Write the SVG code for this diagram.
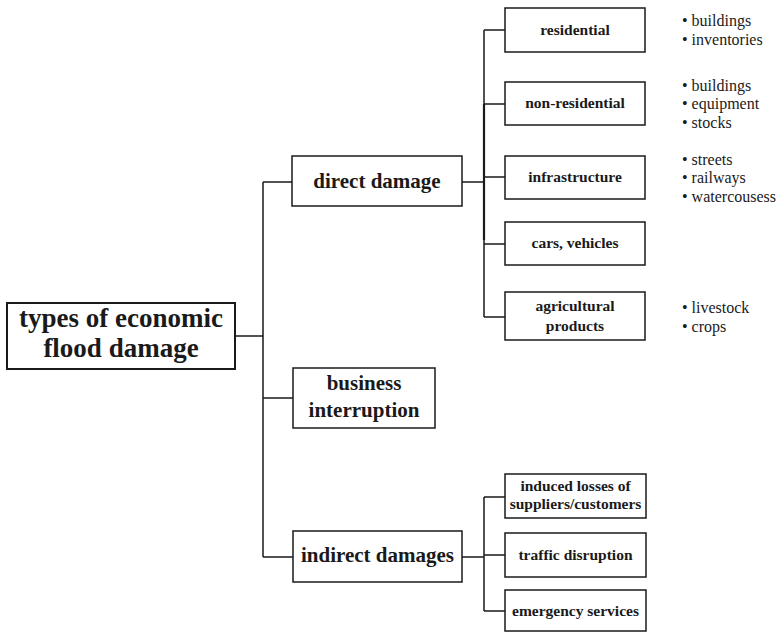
<svg xmlns="http://www.w3.org/2000/svg" width="778" height="632" viewBox="0 0 778 632">
  <style>
    .box { fill: #fff; stroke: #1a1a1a; stroke-width: 1.5; }
    .wire { fill: none; stroke: #1a1a1a; stroke-width: 1.5; }
    text { font-family: "Liberation Serif", "DejaVu Serif", serif; fill: #1a1a1a; text-anchor: middle; }
    .t0 { font-size: 27px; font-weight: bold; }
    .t1 { font-size: 21px; font-weight: bold; }
    .t2 { font-size: 15.5px; font-weight: bold; }
    .note { font-size: 16px; text-anchor: start; }
  </style>
  <rect width="778" height="632" fill="#fff"/>

  <g id="connectors">
    <path class="wire" d="M235 336 H263 M263 182 V557 M263 182 H292 M263 398 H293 M263 557 H293"/>
    <path class="wire" d="M462 182 H484 M484 30 V317 M484 30 H505 M484 104 H505 M484 177 H505 M484 244 H505 M484 317 H505"/>
    <path class="wire" d="M484 104 V240" style="stroke-width:2.2"/>
    <path class="wire" d="M462 557 H484 M484 497 V611 M484 497 H505 M484 555 H505 M484 611 H505"/>
  </g>

  <g id="root">
    <rect class="box" x="7" y="303" width="228" height="66" style="stroke-width:2"/>
    <text class="t0" x="121" y="327">types of economic</text>
    <text class="t0" x="121" y="357">flood damage</text>
  </g>

  <g id="direct">
    <rect class="box" x="292" y="156" width="170" height="50"/>
    <text class="t1" x="377" y="188">direct damage</text>
  </g>
  <g id="business">
    <rect class="box" x="293" y="368" width="142" height="60"/>
    <text class="t1" x="364" y="390">business</text>
    <text class="t1" x="364" y="417">interruption</text>
  </g>
  <g id="indirect">
    <rect class="box" x="293" y="531" width="169" height="51"/>
    <text class="t1" x="377.5" y="562">indirect damages</text>
  </g>

  <g id="residential">
    <rect class="box" x="505" y="8" width="140" height="44"/>
    <text class="t2" x="575" y="35">residential</text>
  </g>
  <g id="non-residential">
    <rect class="box" x="505" y="82" width="140" height="43"/>
    <text class="t2" x="575" y="108">non-residential</text>
  </g>
  <g id="infrastructure">
    <rect class="box" x="505" y="156" width="140" height="43"/>
    <text class="t2" x="575" y="182">infrastructure</text>
  </g>
  <g id="cars">
    <rect class="box" x="505" y="222" width="140" height="43"/>
    <text class="t2" x="575" y="248">cars, vehicles</text>
  </g>
  <g id="agricultural">
    <rect class="box" x="505" y="292" width="140" height="48"/>
    <text class="t2" x="575" y="311">agricultural</text>
    <text class="t2" x="575" y="331">products</text>
  </g>

  <g id="induced">
    <rect class="box" x="505" y="474" width="141" height="44"/>
    <text class="t2" x="575.5" y="491">induced losses of</text>
    <text class="t2" x="575.5" y="509">suppliers/customers</text>
  </g>
  <g id="traffic">
    <rect class="box" x="505" y="533" width="141" height="44"/>
    <text class="t2" x="575.5" y="560">traffic disruption</text>
  </g>
  <g id="emergency">
    <rect class="box" x="505" y="590" width="141" height="41"/>
    <text class="t2" x="575.5" y="616">emergency services</text>
  </g>

  <g id="notes">
    <text class="note" x="682" y="26">• buildings</text>
    <text class="note" x="682" y="45">• inventories</text>
    <text class="note" x="682" y="91">• buildings</text>
    <text class="note" x="682" y="109">• equipment</text>
    <text class="note" x="682" y="128">• stocks</text>
    <text class="note" x="682" y="165">• streets</text>
    <text class="note" x="682" y="183">• railways</text>
    <text class="note" x="682" y="202">• watercousess</text>
    <text class="note" x="682" y="313">• livestock</text>
    <text class="note" x="682" y="332">• crops</text>
  </g>
</svg>
